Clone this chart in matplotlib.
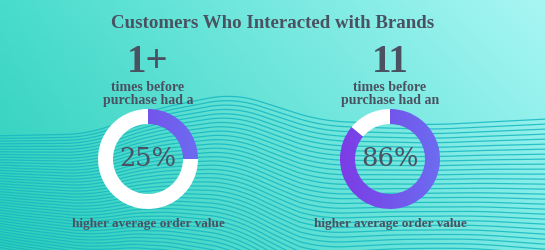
"""Infographic: customers who interacted with brands, two donut gauges"""

import matplotlib.pyplot as plt
import numpy as np
from matplotlib.colors import LinearSegmentedColormap, to_rgb

title = "Customers Who Interacted with Brands"
counts = ["1+", "11"]
lead_text = ["times before\npurchase had a", "times before\npurchase had an"]
shares = [25, 86]
foot_text = "higher average order value"

text_color = "#4a5262"
ring_bg = "white"
serif = "Liberation Serif"
purple = LinearSegmentedColormap.from_list("purp", ["#7c3ce6", "#6c6cf0"])

W, H = 545, 250
fig = plt.figure(figsize=(W / 100, H / 100), dpi=100)
ax = fig.add_axes([0, 0, 1, 1])
ax.set_xlim(0, W)
ax.set_ylim(H, 0)
ax.axis("off")

# background gradient, corner colours
tl, tr = np.array(to_rgb("#48dccc")), np.array(to_rgb("#a8f6f4"))
bl, br = np.array(to_rgb("#2ccdb9")), np.array(to_rgb("#7eebe5"))
u = np.linspace(0, 1, 200)[None, :, None]
v = np.linspace(0, 1, 100)[:, None, None]
bg = (1 - v) * ((1 - u) * tl + u * tr) + v * ((1 - u) * bl + u * br)
ax.imshow(bg, extent=(0, W, H, 0), aspect="auto", zorder=0)

# wavy decoration lines (smoothed outline of the top line)
xs = np.linspace(-60, W + 60, 500)
top = np.interp(xs, [-60, 90, 150, 233, 320, 430, 605],
                [137, 134, 110, 93, 121, 125, 116])
kern = np.ones(40) / 40
top = np.convolve(np.pad(top, 20, mode="edge"), kern, mode="same")[20:-20]
step = np.interp(xs, [0, 150, 300, 545], [2.5, 3.8, 4.7, 4.9])
for k in range(45):
    bend = (k / 45) * 10 * np.sin(2 * np.pi * (xs - 200) / 320)
    ax.plot(xs, top + k * step + bend, color="#17b8c2", lw=0.9, alpha=0.85, zorder=1)

ax.text(W / 2, 23, title, ha="center", va="center", fontsize=13.6,
        fontweight="bold", family=serif, color=text_color, zorder=5)

centers = [148, 390]
cy, r_out, width = 159, 50, 15

for cx, cnt, lead, pct in zip(centers, counts, lead_text, shares):
    ax.text(cx, 63, cnt, ha="center", va="center", fontsize=28,
            fontweight="bold", family=serif, color=text_color, zorder=5)
    ax.text(cx, 94, lead, ha="center", va="center", fontsize=10,
            fontweight="bold", family=serif, color=text_color,
            linespacing=0.95, zorder=5)
    ax.text(cx, 224, foot_text, ha="center", va="center", fontsize=9.5,
            fontweight="bold", family=serif, color=text_color, zorder=5)

    # donut in its own axes
    x0 = (cx - r_out) / W
    y0 = 1 - (cy + r_out) / H
    dax = fig.add_axes([x0, y0, 2 * r_out / W, 2 * r_out / H])
    wedges, _ = dax.pie([pct, 100 - pct], startangle=90, counterclock=False,
                        colors=["none", ring_bg], radius=1,
                        wedgeprops=dict(width=width / r_out, linewidth=0))
    dax.set_xlim(-1, 1)
    dax.set_ylim(-1, 1)
    dax.set_aspect("equal")
    dax.axis("off")
    grad = np.linspace(0, 1, 100)[None, :]
    im = dax.imshow(grad, cmap=purple, extent=(-1, 1, -1, 1), aspect="auto", zorder=2)
    im.set_clip_path(wedges[0])
    dax.text(0, 0.02, f"{pct}%", ha="center", va="center", fontsize=18.5,
             family="DejaVu Serif", color=text_color, zorder=5)

fig.savefig("out.png", dpi=100)
